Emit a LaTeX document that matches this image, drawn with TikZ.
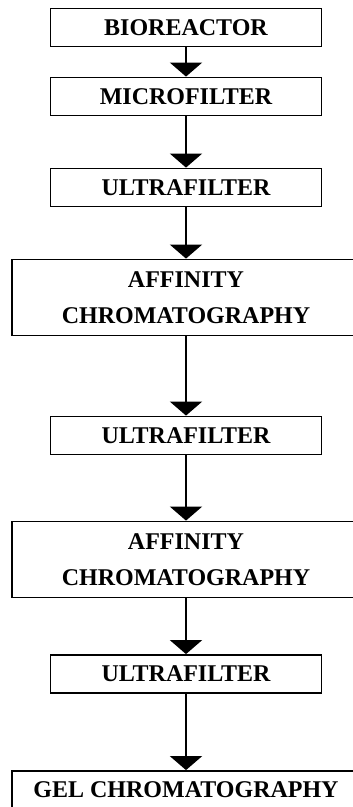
\documentclass[tikz,border=0pt]{standalone}
\usepackage{fontspec}
\setmainfont{Liberation Serif}
\usetikzlibrary{arrows.meta}

\begin{document}
\begin{tikzpicture}[
    stage/.style={draw, rectangle, line width=1.8pt, minimum width=271pt, minimum height=38pt, inner sep=0pt, font=\fontsize{24}{36}\selectfont\bfseries},
    widestage/.style={stage, minimum width=348pt},
    bigstage/.style={widestage, minimum height=76pt, align=center},
    flow/.style={-{Triangle[width=32pt,length=14pt]}, line width=1.8pt}]
        \useasboundingbox (0,0) rectangle (353pt,-807pt);
        \node (bioreactor) [stage] at (186pt,-27.5pt) {BIOREACTOR};
        \node (microfilter) [stage, below of=bioreactor, node distance=69pt] {MICROFILTER};
        \node (ultraA) [stage, below of=microfilter, node distance=91pt] {ULTRAFILTER};
        \node (affinityA) [bigstage, below of=ultraA, node distance=110pt] {AFFINITY\\CHROMATOGRAPHY};
        \node (ultraB) [stage, below of=affinityA, node distance=138pt] {ULTRAFILTER};
        \node (affinityB) [bigstage, below of=ultraB, node distance=124pt] {AFFINITY\\CHROMATOGRAPHY};
        \node (ultraC) [stage, below of=affinityB, node distance=114.5pt] {ULTRAFILTER};
        \node (gel) [widestage, below of=ultraC, node distance=116pt] {GEL CHROMATOGRAPHY};

        \draw[flow] (bioreactor) -- (microfilter);
        \draw[flow] (microfilter) -- (ultraA);
        \draw[flow] (ultraA) -- (affinityA);
        \draw[flow] (affinityA) -- (ultraB);
        \draw[flow] (ultraB) -- (affinityB);
        \draw[flow] (affinityB) -- (ultraC);
        \draw[flow] (ultraC) -- (gel);
\end{tikzpicture}
\end{document}
